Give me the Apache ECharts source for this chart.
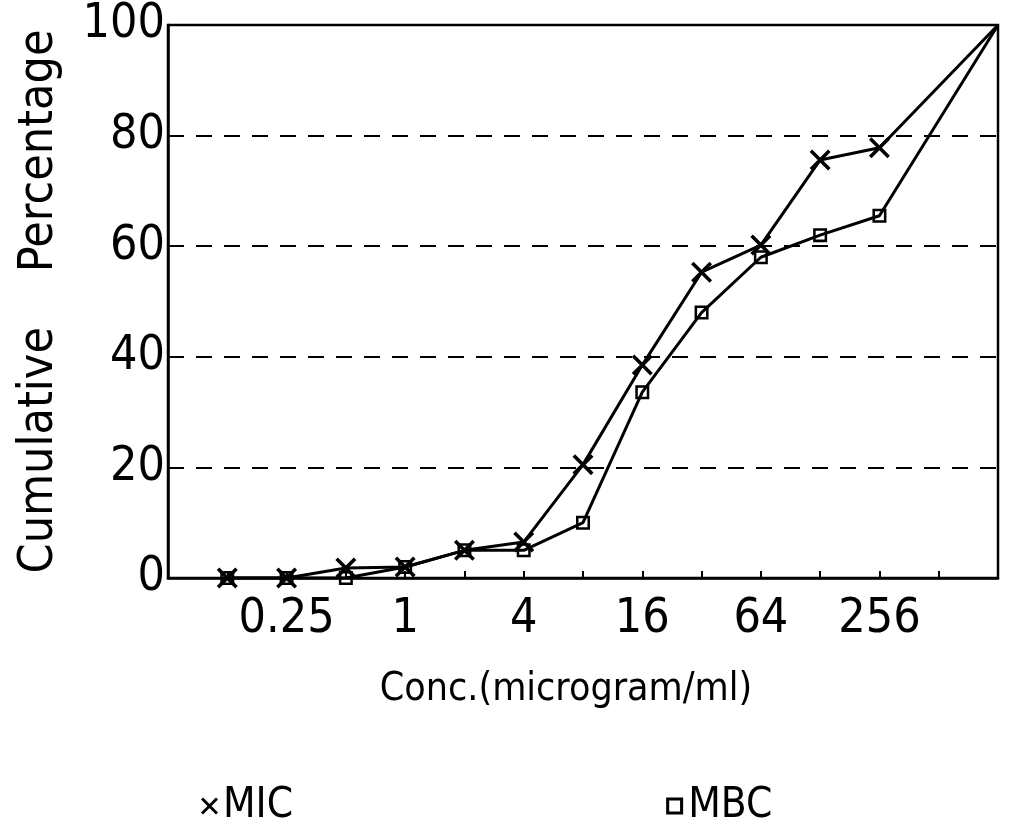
<!DOCTYPE html>
<html>
<head>
<meta charset="utf-8">
<script src="https://cdn.jsdelivr.net/npm/echarts@6/dist/echarts.min.js"></script>
<style>
  html, body { margin: 0; padding: 0; background: #fff; }
  #chart { width: 1013px; height: 833px; }
</style>
</head>
<body>
<div id="chart"></div>
<script>
// concentrations (microgram/ml), plotted on a log2 axis
var concs = [0.125, 0.25, 0.5, 1, 2, 4, 8, 16, 32, 64, 128, 256, 1024];
var micValues = [0, 0, 1.8, 2, 5, 6.5, 20.5, 38.5, 55.3, 60.2, 75.6, 77.8, 100];
var mbcValues = [0, 0, 0, 2, 5, 5, 10, 33.6, 48, 58, 62, 65.5, 100];
var xTickLabels = { '0.25': '0.25', '1': '1', '4': '4', '16': '16', '64': '64', '256': '256' };

var FONT = "'Liberation Sans Narrow', 'DejaVu Sans Condensed', sans-serif";
var crossPath = 'path://M0,1.2L1.2,0L10,8.8L8.8,10Z M8.8,0L10,1.2L1.2,10L0,8.8Z';
var squarePath = 'path://M0,0H10V10H0Z M1.8,1.8V8.2H8.2V1.8Z';

function toPoints(vals) {
    var pts = [];
    for (var i = 0; i < concs.length; i++) {
        var p = { value: [Math.log2(concs[i]), vals[i]] };
        // the last point (top right corner) has no marker
        if (i == concs.length - 1) p.symbol = 'none';
        pts.push(p);
    }
    return pts;
}

var chart = echarts.init(document.getElementById('chart'));

var option = {
    animation: false,
    backgroundColor: '#fff',
    textStyle: { fontFamily: FONT, color: '#000' },
    grid: {
        left: 168, right: 15, top: 25, bottom: 255,
        show: true, borderColor: '#000', borderWidth: 2.5
    },
    legend: {
        left: 196, top: 780,
        itemGap: 373,
        itemWidth: 17, itemHeight: 17,
        textStyle: { fontFamily: FONT, fontSize: 42, color: '#000' },
        data: [
            { name: 'MIC', icon: crossPath },
            { name: 'MBC', icon: squarePath }
        ]
    },
    xAxis: {
        type: 'value',
        min: -4, max: 10, interval: 1,
        name: 'Conc.(microgram/ml)',
        nameLocation: 'middle',
        nameGap: 92,
        nameTextStyle: { fontFamily: FONT, fontSize: 39, color: '#000', padding: [0, 34, 0, 0] },
        axisLine: { onZero: false, lineStyle: { color: '#000', width: 2.5 } },
        axisTick: { inside: true, length: 7, lineStyle: { color: '#000', width: 2 } },
        axisLabel: {
            margin: 18,
            fontFamily: FONT, fontSize: 48, color: '#000',
            formatter: function(v) {
                var c = Math.pow(2, v);
                return xTickLabels[String(c)] || '';
            }
        },
        splitLine: { show: false }
    },
    yAxis: {
        type: 'value',
        min: 0, max: 100, interval: 20,
        name: 'Cumulative    Percentage',
        nameLocation: 'middle',
        nameGap: 104,
        nameTextStyle: { fontFamily: FONT, fontSize: 48, color: '#000' },
        axisLine: { show: true, onZero: false, lineStyle: { color: '#000', width: 2.5 } },
        axisTick: { show: false },
        axisLabel: { margin: 3, fontFamily: FONT, fontSize: 48, color: '#000' },
        splitLine: {
            show: true,
            lineStyle: { color: '#000', width: 2, type: [16, 12] }
        }
    },
    series: [{
        name: 'MIC',
        type: 'line',
        symbol: crossPath,
        symbolSize: 21,
        itemStyle: { color: '#000' },
        lineStyle: { color: '#000', width: 3 },
        data: toPoints(micValues)
    }, {
        name: 'MBC',
        type: 'line',
        symbol: squarePath,
        symbolSize: 14,
        itemStyle: { color: '#000' },
        lineStyle: { color: '#000', width: 3 },
        data: toPoints(mbcValues)
    }]
};

chart.setOption(option);
</script>
</body>
</html>
